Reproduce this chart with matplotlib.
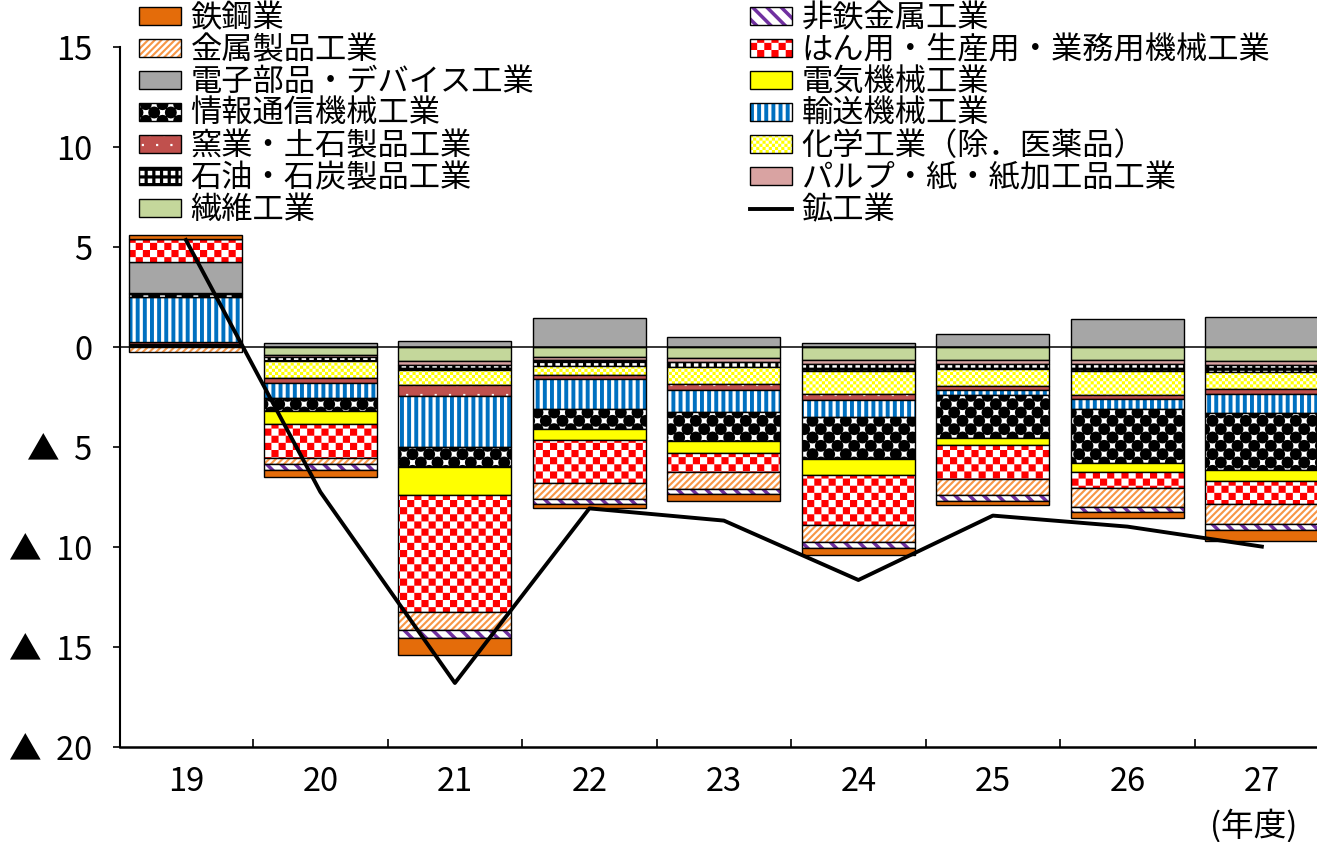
import warnings

import matplotlib

matplotlib.use("Agg")
import matplotlib.pyplot as plt
import numpy as np
from matplotlib import hatch as mhatch
from matplotlib.colors import to_rgba
from matplotlib.path import Path
from matplotlib.ticker import FixedLocator, FuncFormatter

warnings.filterwarnings("ignore", category=matplotlib.MatplotlibDeprecationWarning)

plt.rcParams["font.family"] = ["Noto Sans CJK JP", "DejaVu Sans"]
plt.rcParams["hatch.linewidth"] = 0.0

# 年度別の寄与度（%ポイント）
YEARS = ["19", "20", "21", "22", "23", "24", "25", "26", "27"]

IRON_STEEL = [0.22, -0.33, -0.86, -0.18, -0.31, -0.36, -0.21, -0.28, -0.53]
NONFERROUS = [0.0, -0.28, -0.4, -0.26, -0.28, -0.3, -0.31, -0.28, -0.3]
FABRICATED_METAL = [-0.27, -0.33, -0.91, -0.78, -0.86, -0.86, -0.78, -0.95, -1.0]
GENERAL_MACHINERY = [1.13, -1.7, -5.83, -2.16, -0.91, -2.5, -1.73, -0.78, -1.15]
ELECTRONIC_PARTS = [1.57, 0.18, 0.3, 1.45, 0.48, 0.2, 0.65, 1.4, 1.52]
ELECTRICAL = [0.05, -0.65, -1.43, -0.56, -0.61, -0.78, -0.36, -0.45, -0.56]
ICT_EQUIPMENT = [0.12, -0.66, -1.0, -1.0, -1.48, -2.1, -2.11, -2.7, -2.85]
TRANSPORT = [2.27, -0.73, -2.53, -1.5, -1.06, -0.88, -0.28, -0.53, -0.95]
CERAMICS = [0.08, -0.23, -0.58, -0.21, -0.31, -0.3, -0.2, -0.16, -0.26]
CHEMICALS = [0.0, -0.88, -0.71, -0.45, -0.85, -1.15, -0.83, -1.2, -0.86]
PETROLEUM = [0.12, -0.18, -0.26, -0.3, -0.28, -0.33, -0.28, -0.36, -0.36]
PULP_PAPER = [0.05, -0.13, -0.23, -0.13, -0.2, -0.23, -0.2, -0.21, -0.2]
TEXTILES = [0.0, -0.38, -0.68, -0.5, -0.53, -0.63, -0.63, -0.65, -0.68]
MINING_MANUFACTURING = [5.35, -7.25, -16.8, -8.07, -8.68, -11.65, -8.43, -8.98, -9.98]

SERIES = [
    ("鉄鋼業", IRON_STEEL),
    ("非鉄金属工業", NONFERROUS),
    ("金属製品工業", FABRICATED_METAL),
    ("はん用・生産用・業務用機械工業", GENERAL_MACHINERY),
    ("電子部品・デバイス工業", ELECTRONIC_PARTS),
    ("電気機械工業", ELECTRICAL),
    ("情報通信機械工業", ICT_EQUIPMENT),
    ("輸送機械工業", TRANSPORT),
    ("窯業・土石製品工業", CERAMICS),
    ("化学工業（除．医薬品）", CHEMICALS),
    ("石油・石炭製品工業", PETROLEUM),
    ("パルプ・紙・紙加工品工業", PULP_PAPER),
    ("繊維工業", TEXTILES),
]
LINE_LABEL = "鉱工業"


# --- tiled fill patterns registered as extra hatch types -------------------
def _rect(x0, y0, w, h):
    return [(x0, y0), (x0 + w, y0), (x0 + w, y0 + h), (x0, y0 + h)]


def _circle(cx, cy, r, m=16):
    t = np.linspace(0, 2 * np.pi, m, endpoint=False)
    return list(zip(cx + r * np.cos(t), cy + r * np.sin(t)))


def checker(n):
    s = 1.0 / n
    return [_rect(i * s, j * s, s, s) for i in range(n) for j in range(n) if (i + j) % 2 == 0]


def vstripes(n, frac):
    s = 1.0 / n
    return [_rect(i * s, -0.1, s * frac, 1.2) for i in range(n)]


def diagonal(n, frac, rising=True):
    s = 1.0 / n
    w = s * frac
    polys = []
    for k in range(-n - 1, n + 2):
        x0 = k * s
        if rising:
            polys.append([(x0, 0), (x0 + w, 0), (x0 + w + 1, 1), (x0 + 1, 1)])
        else:
            polys.append([(x0 + 1, 0), (x0 + 1 + w, 0), (x0 + w, 1), (x0, 1)])
    return polys


def balls(n, rfrac):
    s = 1.0 / n
    return [_circle((i + 0.5) * s, (j + 0.5) * s, rfrac * s)
            for i in range(-1, n + 1) for j in range(-1, n + 1) if (i + j) % 2 == 0]


def dots(nx, ny, size, stagger=False):
    polys = []
    for j in range(ny):
        shift = 0.5 / nx if (stagger and j % 2) else 0.0
        for i in range(-1, nx + 1):
            cx = (i + 0.5) / nx + shift
            cy = (j + 0.5) / ny
            polys.append(_rect(cx - size / 2, cy - size / 2, size, size))
    return polys


PATTERNS = {
    "C": checker(14),
    "c": checker(32),
    "V": vstripes(14, 0.55),
    "N": diagonal(7, 0.35, rising=False),
    "M": diagonal(15, 0.45, rising=True),
    "B": balls(12, 0.72),
    "D": dots(7, 10, 0.022, stagger=True),
    "G": dots(13, 13, 0.045),
}


class TileHatch(mhatch.HatchPatternBase):
    def __init__(self, hatch, density):
        self.polys = [p for key, polys in PATTERNS.items() if key in hatch for p in polys]
        self.num_vertices = sum(len(p) + 1 for p in self.polys)

    def set_vertices_and_codes(self, vertices, codes):
        cursor = 0
        for poly in self.polys:
            n = len(poly)
            vertices[cursor:cursor + n] = poly
            vertices[cursor + n] = poly[0]
            codes[cursor] = Path.MOVETO
            codes[cursor + 1:cursor + n] = Path.LINETO
            codes[cursor + n] = Path.CLOSEPOLY
            cursor += n + 1


mhatch._hatch_types.append(TileHatch)

# face colour, hatch key, hatch colour
STYLES = {
    "鉄鋼業": ("#E46C0A", None, None),
    "非鉄金属工業": ("white", "N", "#7030A0"),
    "金属製品工業": ("white", "M", "#F79646"),
    "はん用・生産用・業務用機械工業": ("white", "C", "#FF0000"),
    "電子部品・デバイス工業": ("#A6A6A6", None, None),
    "電気機械工業": ("#FFFF00", None, None),
    "情報通信機械工業": ("white", "B", "black"),
    "輸送機械工業": ("white", "V", "#0070C0"),
    "窯業・土石製品工業": ("#C0504D", "D", "white"),
    "化学工業（除．医薬品）": ("white", "c", "#FFFF00"),
    "石油・石炭製品工業": ("black", "G", "white"),
    "パルプ・紙・紙加工品工業": ("#D9A3A2", None, None),
    "繊維工業": ("#C4D79B", None, None),
}

TICK_SIZE = 23.5
LEGEND_SIZE = 22.5

fig = plt.figure(figsize=(13.17, 8.42), dpi=100)
ax = fig.add_axes([120 / 1317, 95 / 842, 1 - 120 / 1317, 700 / 842])

x = np.arange(len(YEARS))
pos_base = np.zeros(len(YEARS))
neg_base = np.zeros(len(YEARS))
handles = {}
# textiles sit next to the zero line, iron & steel on the outside
for name, values in reversed(SERIES):
    v = np.asarray(values, dtype=float)
    bottom = np.where(v >= 0, pos_base, neg_base)
    face, hatch, hcolor = STYLES[name]
    bars = ax.bar(x, v, 0.84, bottom=bottom, color=face, edgecolor="black",
                  linewidth=1.0, hatch=hatch, label=name, zorder=2)
    if hcolor is not None:
        for patch in bars:
            patch._hatch_color = to_rgba(hcolor)
    handles[name] = bars
    pos_base += np.where(v >= 0, v, 0)
    neg_base += np.where(v < 0, v, 0)

line, = ax.plot(x, MINING_MANUFACTURING, color="black", linewidth=2.8,
                label=LINE_LABEL, zorder=4)
ax.axhline(0, color="black", linewidth=1.1, zorder=3)

ax.set_xlim(-0.49, 8.41)
ax.set_ylim(-20, 15)
ax.set_yticks(np.arange(-20, 16, 5))
ax.yaxis.set_major_formatter(FuncFormatter(
    lambda v, _: f"▲  {int(-v)}" if v < 0 else f"{int(v)}"))
ax.set_xticks(x)
ax.set_xticklabels(YEARS)
ax.xaxis.set_minor_locator(FixedLocator(x[:-1] + 0.5))
ax.tick_params(axis="y", direction="out", length=5, width=1.2, pad=15, labelsize=TICK_SIZE)
ax.tick_params(axis="x", which="major", length=0, pad=14, labelsize=TICK_SIZE)
ax.tick_params(axis="x", which="minor", direction="in", length=6, width=1.2)
for side in ("top", "right"):
    ax.spines[side].set_visible(False)
ax.spines["left"].set_linewidth(1.5)
ax.spines["bottom"].set_linewidth(1.8)

# two legend columns, filled column by column
order = [name for name, _ in SERIES]
col1 = order[0::2]
col2 = order[1::2]
leg_handles = [handles[n] for n in col1] + [handles[n] for n in col2] + [line]
leg_labels = col1 + col2 + [LINE_LABEL]
ax.legend(leg_handles, leg_labels, loc="upper left",
          bbox_to_anchor=(139 / 1317, 1 - 2 / 842), bbox_transform=fig.transFigure,
          ncol=2, fontsize=LEGEND_SIZE, frameon=False, handlelength=1.35, handleheight=0.48,
          handletextpad=0.3, labelspacing=0.0, columnspacing=6.9,
          borderpad=0, borderaxespad=0)

fig.text(1297 / 1317, 16 / 842, "(年度)", ha="right", va="center", fontsize=TICK_SIZE)

fig.savefig("out.png", dpi=100)
